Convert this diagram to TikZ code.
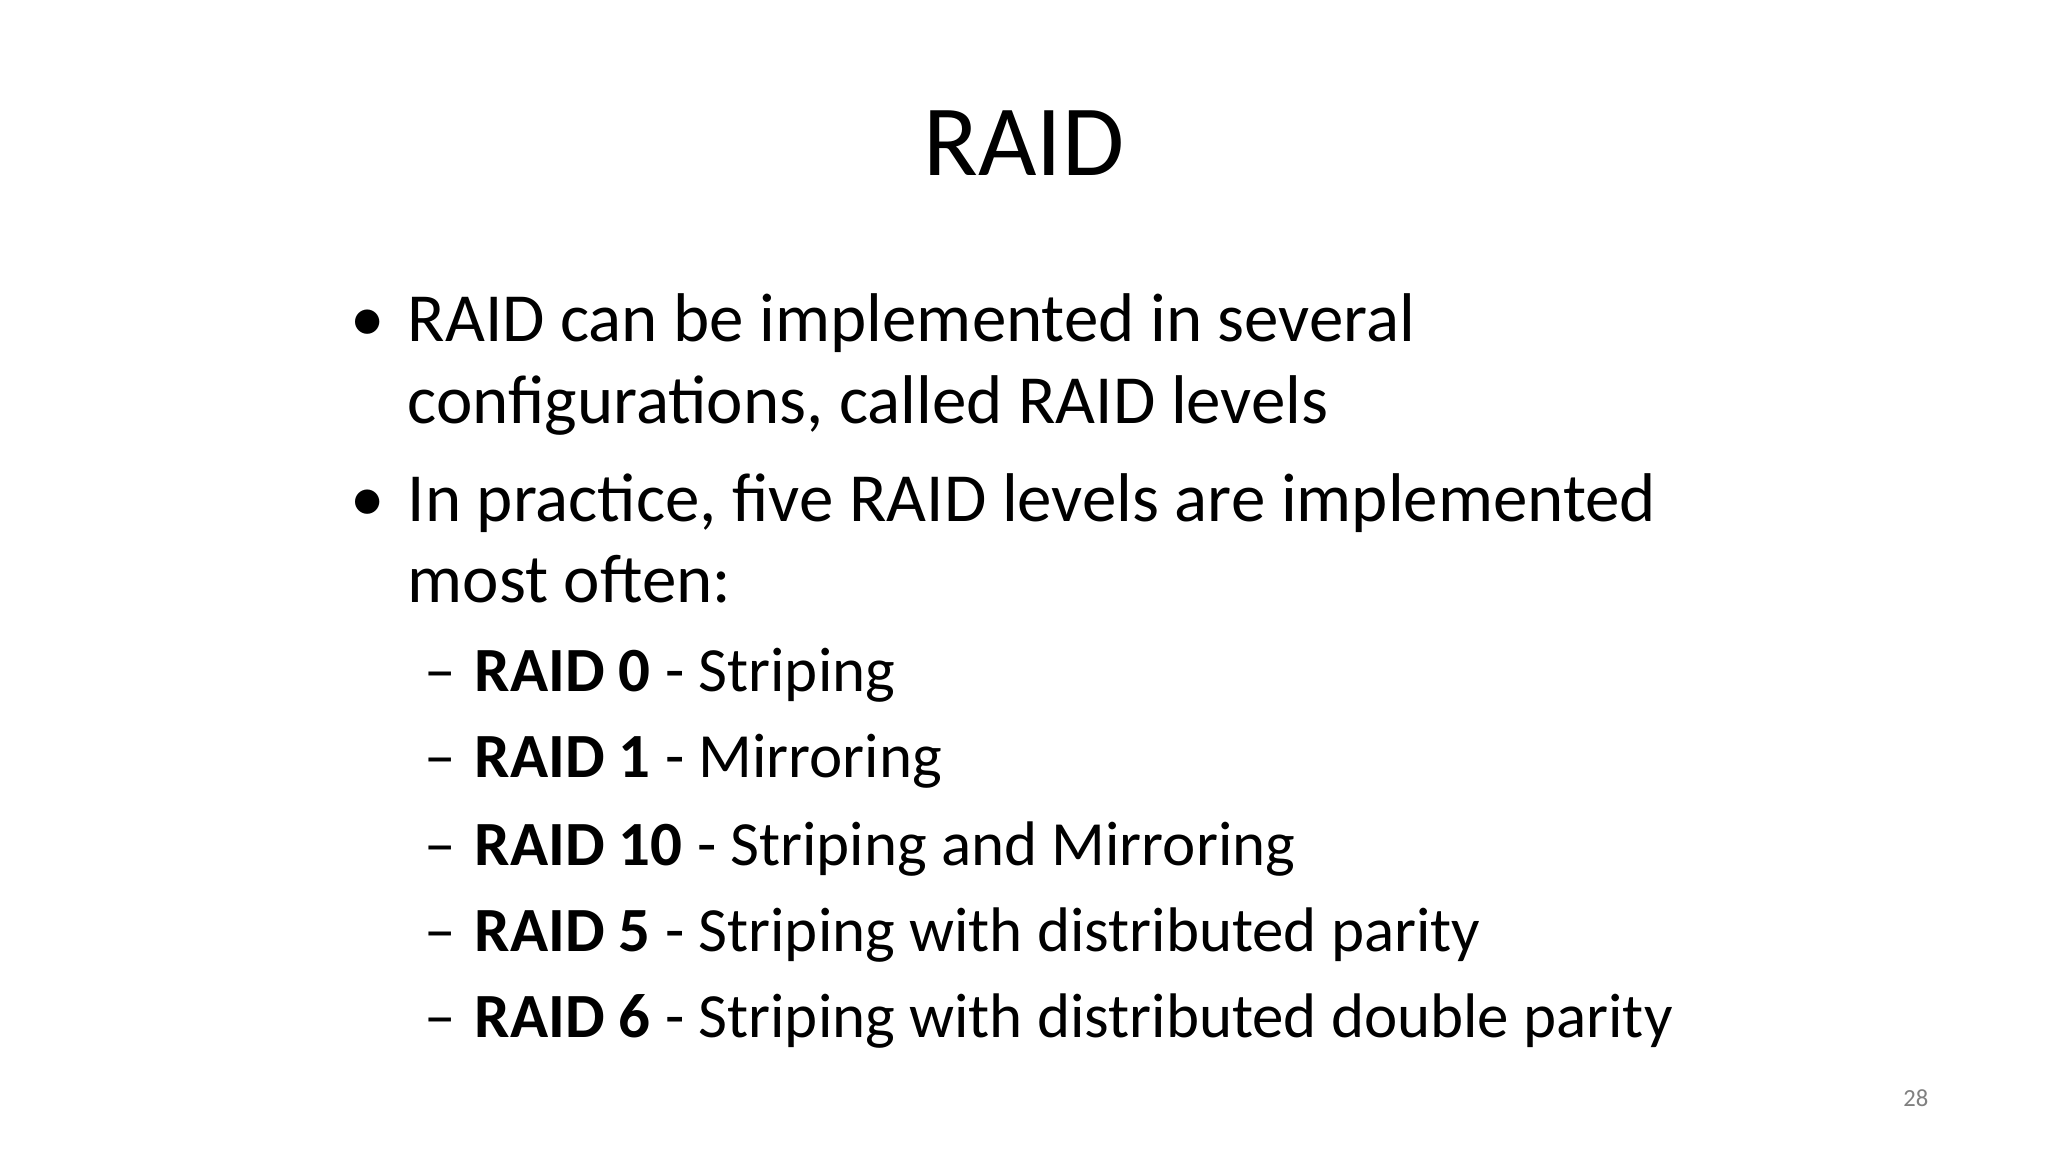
\documentclass[tikz,border=0pt]{standalone}
\usepackage{fontspec}
\setmainfont{Carlito}
\begin{document}
\begin{tikzpicture}[x=0.01cm,y=-0.01cm,
  tx/.style={anchor=base west,inner sep=0pt,font=\fontsize{19.6pt}{23pt}\selectfont},
  sx/.style={anchor=base west,inner sep=0pt,font=\fontsize{17.9pt}{21pt}\selectfont}]
\useasboundingbox[fill=white] (0,0) rectangle (2048,1152);
\node[anchor=base,inner sep=0pt,font=\fontsize{28.7pt}{32pt}\selectfont] (title) at (1024,176) {RAID};
\node[tx] (b1) at (350,342) {•};
\node[tx] (l1) at (407,342) {RAID can be implemented in several};
\node[tx] (l2) at (407,424) {configurations, called RAID levels};
\node[tx] (b2) at (350,522) {•};
\node[tx] (l3) at (407,522) {In practice, five RAID levels are implemented};
\node[tx] (l4) at (407,603) {most often:};
\foreach \y/\b/\t [count=\i] in {692/RAID 0/Striping, 777/RAID 1/Mirroring, 865/RAID 10/Striping and Mirroring, 951/RAID 5/Striping with distributed parity, 1037/RAID 6/Striping with distributed double parity}{
  \node[sx] (d\i) at (424,\y) {–};
  \node[sx] (s\i) at (474,\y) {\textbf{\b} - \t};
}
\node[anchor=base east,inner sep=0pt,text=gray,font=\fontsize{7pt}{8pt}\selectfont] (pg) at (1929,1106) {28};
\end{tikzpicture}
\end{document}
